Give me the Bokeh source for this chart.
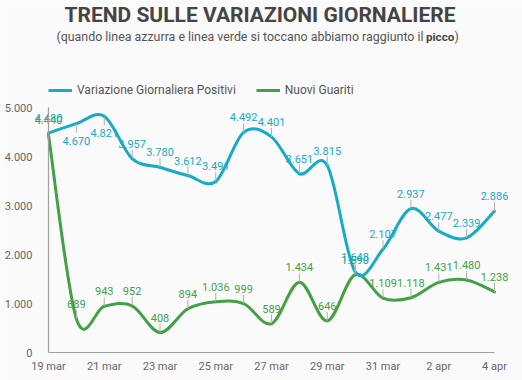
from bokeh.plotting import figure
from bokeh.models import Range1d, FixedTicker, Label, Legend, LegendItem, ColumnDataSource
from bokeh.embed import file_html
from bokeh.resources import INLINE
from bokeh.core.properties import value

# ---- data ----
dates = ["19 mar", "20 mar", "21 mar", "22 mar", "23 mar", "24 mar", "25 mar", "26 mar",
         "27 mar", "28 mar", "29 mar", "30 mar", "31 mar", "1 apr", "2 apr", "3 apr", "4 apr"]
positivi = [4480, 4670, 4821, 3957, 3780, 3612, 3491, 4492, 4401, 3651, 3815, 1648, 2107,
            2937, 2477, 2339, 2886]
guariti = [4440, 689, 943, 952, 408, 894, 1036, 999, 589, 1434, 646, 1590, 1109, 1118,
           1431, 1480, 1238]
positivi_below = ["20 mar", "21 mar"]   # labels placed under the line
y_ticks = [0, 1000, 2000, 3000, 4000, 5000]
y_tick_labels = ["0", "1.000", "2.000", "3.000", "4.000", "5.000"]
x_tick_every = 2

BLUE = "#17abc6"
GREEN = "#43a047"
BG = "#fafafa"
FONT = "Roboto"

# ---- layout (pixels inside the figure) ----
W, H = 522, 380
PLOT_L, PLOT_R = 48, 494      # x pixel of first / last day
PLOT_B, PLOT_T = 28, 273      # y pixel (from bottom) of 0 / top tick
n = len(dates)
ymax = y_ticks[-1]
ppx = (PLOT_R - PLOT_L) / (n - 1)
ppy = (PLOT_T - PLOT_B) / ymax
x_range = Range1d(-PLOT_L / ppx, (n - 1) + (W - PLOT_R) / ppx)
y_range = Range1d(-PLOT_B / ppy, ymax + (H - PLOT_T) / ppy)

p = figure(width=W, height=H, output_backend="svg", toolbar_location=None,
           x_range=x_range, y_range=y_range,
           min_border_left=0, min_border_right=0, min_border_top=0, min_border_bottom=0)
p.background_fill_color = BG
p.border_fill_color = BG
p.outline_line_color = None
p.grid.visible = False

xs = list(range(n))

# axes, pinned at the data origin
p.xaxis.ticker = FixedTicker(ticks=xs[::x_tick_every])
p.xaxis.major_label_overrides = {i: dates[i] for i in xs[::x_tick_every]}
p.xaxis.fixed_location = y_ticks[0]
p.xaxis.bounds = (xs[0], xs[-1])
p.yaxis.ticker = FixedTicker(ticks=y_ticks)
p.yaxis.major_label_overrides = dict(zip(y_ticks, y_tick_labels))
p.yaxis.fixed_location = xs[0]
p.yaxis.bounds = (y_ticks[0], y_ticks[-1])
for ax in (p.xaxis, p.yaxis):
    ax.axis_line_color = "#a0a0a0"
    ax.axis_line_width = 1.2
    ax.major_tick_line_color = None
    ax.minor_tick_line_color = None
    ax.major_label_text_font = FONT
    ax.major_label_text_font_size = "11px"
    ax.major_label_text_color = "#666666"
p.xaxis.major_label_standoff = 1
p.yaxis.major_label_standoff = 10


def catmull(xv, yv):
    m = len(xv)
    d = dict(x0=[], y0=[], x1=[], y1=[], cx0=[], cy0=[], cx1=[], cy1=[])
    for i in range(m - 1):
        a = max(i - 1, 0)
        b = min(i + 2, m - 1)
        d["x0"].append(xv[i]); d["y0"].append(yv[i])
        d["x1"].append(xv[i + 1]); d["y1"].append(yv[i + 1])
        d["cx0"].append(xv[i] + (xv[i + 1] - xv[a]) / 6)
        d["cy0"].append(yv[i] + (yv[i + 1] - yv[a]) / 6)
        d["cx1"].append(xv[i + 1] - (xv[b] - xv[i]) / 6)
        d["cy1"].append(yv[i + 1] - (yv[b] - yv[i]) / 6)
    return ColumnDataSource(d)


def fmt(v):
    return f"{v:,}".replace(",", ".")


LEAD = 9 / ppy

series = [(guariti, GREEN, []), (positivi, BLUE, positivi_below)]
for vals, col, below in series:
    p.bezier(x0="x0", y0="y0", x1="x1", y1="y1", cx0="cx0", cy0="cy0", cx1="cx1", cy1="cy1",
             source=catmull(xs, vals), line_color=col, line_width=3, line_cap="round")

for vals, col, below in series:
    down = [dates[i] in below for i in xs]
    src = ColumnDataSource(dict(
        x=xs, y=vals, txt=[fmt(v) for v in vals],
        ly=[v - LEAD if dn else v + LEAD for v, dn in zip(vals, down)],
        off=[17 if dn else -15 for dn in down]))
    p.segment(x0="x", y0="y", x1="x", y1="ly", source=src, line_color="#b0b0b0", line_width=1)
    p.text(x="x", y="y", text="txt", source=src, y_offset="off", text_align="center",
           text_baseline="middle", text_font=value(FONT), text_font_size="11px", text_color=col)

# legend (single-point line renderers carry the swatches)
rb = p.line(x=xs[:1], y=positivi[:1], line_color=BLUE, line_width=3)
rg = p.line(x=xs[:1], y=guariti[:1], line_color=GREEN, line_width=3)
legend = Legend(items=[LegendItem(label="Variazione Giornaliera Positivi", renderers=[rb]),
                       LegendItem(label="Nuovi Guariti", renderers=[rg])],
                location=(48, 283), orientation="horizontal", glyph_width=24, glyph_height=14,
                label_height=14, label_standoff=5, spacing=20, padding=0, margin=0,
                border_line_color=None, background_fill_alpha=0,
                label_text_font=FONT, label_text_font_size="12px", label_text_color="#555555")
p.add_layout(legend)

# title & subtitle
p.add_layout(Label(x=259.5, y=366, x_units="screen", y_units="screen",
                   text="TREND SULLE VARIAZIONI GIORNALIERE", text_align="center",
                   text_baseline="middle", text_font=FONT, text_font_size="21px",
                   text_font_style="bold", text_color="#444444"))
p.add_layout(Label(x=423, y=344, x_units="screen", y_units="screen",
                   text="(quando linea azzurra e linea verde si toccano abbiamo raggiunto il",
                   text_align="right", text_baseline="middle", text_font=FONT,
                   text_font_size="12.4px", text_color="#555555"))
p.add_layout(Label(x=425.5, y=344, x_units="screen", y_units="screen", text="picco",
                   text_align="left", text_baseline="middle", text_font=FONT,
                   text_font_size="11.6px", text_font_style="bold", text_color="#444444"))
p.add_layout(Label(x=454, y=344, x_units="screen", y_units="screen", text=")",
                   text_align="left", text_baseline="middle", text_font=FONT,
                   text_font_size="12.4px", text_color="#555555"))

html = file_html(p, INLINE)
html = html.replace("<body>", f'<body style="background:{BG}">', 1)
open("out.html", "w").write(html)
